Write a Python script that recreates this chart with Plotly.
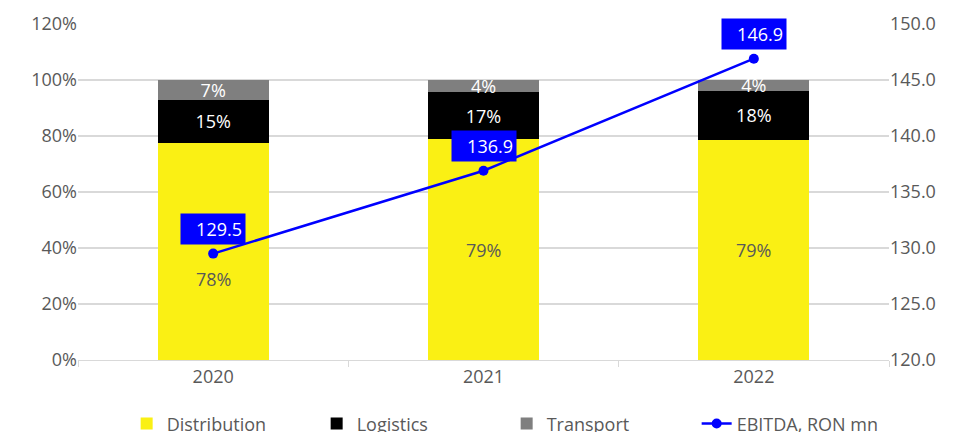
import plotly.graph_objects as go

years = ["2020", "2021", "2022"]
distribution = [77.6, 78.9, 78.6]
logistics = [15.3, 16.7, 17.6]
transport = [7.1, 4.4, 3.8]
ebitda = [129.5, 136.9, 146.9]
# vertical nudges (px) of the Distribution labels, as placed in the original
dist_label_shift = [-28, 0, 0]

FONT = "Open Sans"
GRAY = "#595959"

fig = go.Figure()
fig.add_bar(x=years, y=distribution, name="Distribution", marker_color="#FAF014",
            marker_line_width=0)
fig.add_bar(x=years, y=logistics, name="Logistics", marker_color="#000000",
            marker_line_width=0, texttemplate="%{y:.0f}%", textposition="inside",
            insidetextanchor="middle", textfont=dict(color="white", size=18, family=FONT))
fig.add_bar(x=years, y=transport, name="Transport", marker_color="#7F7F7F",
            marker_line_width=0, texttemplate="%{y:.0f}%", textposition="inside",
            insidetextanchor="middle", textfont=dict(color="white", size=18, family=FONT),
            constraintext="none")
fig.add_scatter(x=years, y=ebitda, name="EBITDA, RON mn", yaxis="y2", mode="lines+markers",
                line=dict(color="#0000FF", width=2.5), marker=dict(size=10, color="#0000FF"))

for i, (d, s) in enumerate(zip(distribution, dist_label_shift)):
    fig.add_annotation(x=i, y=d / 2, xref="x", yref="y", text=f"{d:.0f}%", showarrow=False,
                       yshift=s, font=dict(color=GRAY, size=18, family=FONT))

for i, v in enumerate(ebitda):
    fig.add_annotation(x=i, y=v, xref="x", yref="y2", text=f"{v:.1f}", showarrow=False,
                       yshift=25, bgcolor="#0000FF", font=dict(color="white", size=18, family=FONT),
                       width=58, height=24, align="right", borderpad=3)

fig.update_layout(
    width=965, height=432,
    margin=dict(l=78, r=76, t=24, b=72, autoexpand=False),
    barmode="stack", bargap=0.59,
    plot_bgcolor="white", paper_bgcolor="white",
    font=dict(family=FONT, color=GRAY, size=18),
    showlegend=True,
    legend=dict(orientation="h", x=0.06, xanchor="left", y=-0.135, yanchor="top",
                font=dict(size=18, color=GRAY), traceorder="normal", entrywidth=145),
    xaxis=dict(type="category", range=[-0.5, 2.5], showline=True, linecolor="#d9d9d9",
               linewidth=1, ticks="outside", tickson="boundaries", ticklen=6,
               tickcolor="#d9d9d9", tickfont=dict(size=18, color=GRAY)),
    yaxis=dict(range=[0, 120], dtick=20, ticksuffix="%", showgrid=True,
               gridcolor="#d9d9d9", gridwidth=1.5, zeroline=False,
               tickfont=dict(size=18, color=GRAY)),
    yaxis2=dict(range=[120, 150], dtick=5, tickformat=".1f", overlaying="y",
                side="right", showgrid=False, zeroline=False,
                tickfont=dict(size=18, color=GRAY)),
)

fig.write_html("out.html")
